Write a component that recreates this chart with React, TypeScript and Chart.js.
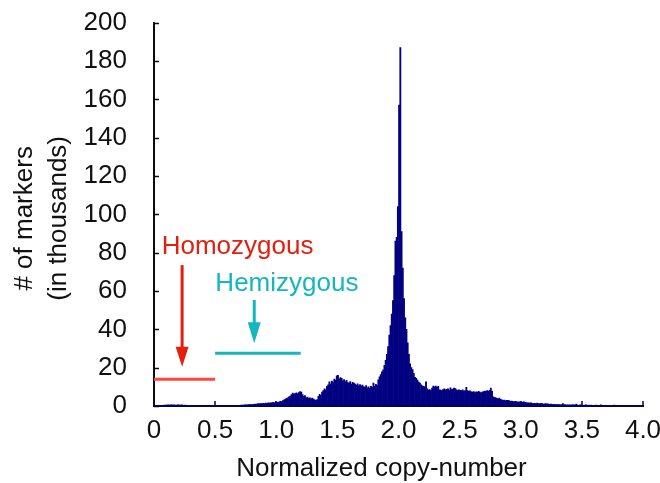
import React, { useEffect, useRef } from "react";
import { Chart, registerables } from "chart.js";

Chart.register(...registerables);

// ---- Data (histogram counts, in thousands; bin width 0.01 copy-number) ----
const BIN_WIDTH = 0.01;

// 0.00 – 0.99
const countsLow = [
  0.1, 0.1, 0.1, 0.1, 0.2, 0.2, 0.3, 0.4, 0.5, 0.5,
  0.5, 0.6, 0.5, 0.6, 0.6, 0.5, 0.6, 0.5, 0.5, 0.6,
  0.5, 0.5, 0.6, 0.5, 0.4, 0.5, 0.4, 0.4, 0.3, 0.3,
  0.3, 0.3, 0.2, 0.2, 0.2, 0.2, 0.1, 0.1, 0.1, 0.1,
  0.1, 0.1, 0.1, 0.1, 0.1, 0.1, 0.1, 0.1, 0.1, 0.1,
  0.1, 0.1, 0.1, 0.2, 0.2, 0.2, 0.3, 0.3, 0.3, 0.3,
  0.3, 0.3, 0.4, 0.3, 0.4, 0.4, 0.3, 0.4, 0.4, 0.4,
  0.4, 0.5, 0.5, 0.5, 0.6, 0.6, 0.6, 0.7, 0.7, 0.8,
  0.8, 0.9, 1.0, 0.9, 1.1, 1.2, 1.1, 1.3, 1.2, 1.4,
  1.3, 1.5, 1.4, 1.6, 1.5, 1.7, 1.6, 1.9, 1.7, 2.0,
];

// 1.00 – 1.99
const countsMid = [
  2.0, 1.8, 2.2, 2.5, 2.3, 2.8, 3.2, 3.6, 4.0, 4.3,
  4.8, 5.2, 6.0, 6.7, 6.2, 6.5, 6.9, 6.3, 7.0, 7.5,
  7.2, 6.0, 5.0, 5.4, 4.3, 4.6, 4.0, 4.2, 3.8, 4.1,
  3.6, 3.2, 2.9, 3.4, 5.0, 6.1, 5.5, 7.2, 8.1, 9.0,
  8.5, 10.2, 11.0, 12.6, 11.5, 13.0, 12.2, 14.1, 13.5, 15.8,
  16.0, 14.2, 14.8, 14.5, 13.1, 13.8, 12.6, 13.4, 12.2, 12.0,
  12.8, 11.5, 12.3, 11.9, 11.4, 10.8, 11.6, 10.5, 11.2, 10.4,
  10.9, 10.1, 9.8, 10.6, 9.5, 10.0, 9.2, 10.3, 9.7, 12.0,
  10.2, 11.3, 10.8, 13.6, 15.2, 16.4, 17.8, 18.9, 21.2, 23.8,
  27, 31, 37, 42, 48, 55, 68, 86, 88, 104,
];

// 2.00 – 2.99
const countsPeak = [
  157, 187, 91, 72, 56, 46, 40, 33, 27, 22,
  20, 19, 17, 15, 14.5, 13.5, 12.5, 12, 11, 10.5,
  10.2, 10.0, 12.6, 9.0, 8.3, 8.6, 8.1, 9.4, 10.4, 10.0,
  10.4, 9.8, 10.2, 8.5, 8.3, 8.0, 8.6, 9.0, 8.4, 8.7,
  8.9, 8.2, 9.5, 8.6, 8.8, 9.3, 9.1, 8.4, 8.0, 8.5,
  8.2, 8.0, 8.4, 7.8, 8.1, 9.7, 8.0, 7.6, 7.9, 7.4,
  7.2, 7.5, 7.0, 7.4, 7.1, 7.6, 7.3, 6.9, 7.2, 7.5,
  7.8, 7.6, 8.0, 7.7, 8.2, 9.4, 7.8, 4.8, 4.5, 4.3,
  4.0, 3.8, 4.1, 3.5, 3.2, 3.0, 3.1, 2.8, 3.0, 2.9,
  2.8, 2.5, 2.6, 2.4, 2.2, 2.5, 2.3, 2.1, 2.2, 2.0,
];

// 3.00 – 3.99
const countsHigh = [
  2.1, 2.0, 2.2, 1.9, 1.8, 1.7, 1.6, 1.5, 1.6, 1.4,
  1.3, 1.4, 1.2, 1.5, 1.3, 1.1, 1.4, 1.2, 1.0, 1.1,
  1.2, 1.0, 1.1, 0.9, 1.0, 0.9, 0.8, 0.9, 0.8, 0.7,
  0.8, 0.7, 0.6, 0.7, 1.2, 0.6, 0.7, 0.5, 0.6, 0.5,
  0.6, 0.5, 0.7, 0.5, 0.6, 1.0, 0.5, 0.4, 0.6, 0.5,
  0.5, 0.4, 0.5, 0.6, 0.4, 0.5, 0.4, 0.5, 0.4, 0.4,
  0.4, 0.5, 0.4, 0.3, 0.4, 0.6, 0.4, 0.3, 0.4, 0.3,
  0.4, 0.3, 0.3, 0.4, 0.3, 0.3, 0.5, 0.3, 0.3, 0.2,
  0.3, 0.2, 0.3, 0.3, 0.2, 0.3, 0.2, 0.2, 0.3, 0.2,
  0.2, 0.2, 0.3, 0.2, 0.2, 0.2, 0.2, 0.2, 0.2, 0.3,
];

const xTickValues = [0, 0.5, 1.0, 1.5, 2.0, 2.5, 3.0, 3.5, 4.0];
const yTickValues = [0, 20, 40, 60, 80, 100, 120, 140, 160, 180, 200];

const xAxisTitle = "Normalized copy-number";
const yAxisTitle = ["# of markers", "(in thousands)"];

// Annotation values (data units)
const homozygousLabel = "Homozygous";
const homozygousLevel = { from: 0, to: 0.5, y: 14 };
const homozygousArrow = { x: 0.23, top: 73.5, tip: 20.5 };
const homozygousText = { x: 0.063, y: 79.3 };

const hemizygousLabel = "Hemizygous";
const hemizygousLevel = { from: 0.5, to: 1.2, y: 27.5 };
const hemizygousArrow = { x: 0.82, top: 55.3, tip: 32.7 };
const hemizygousText = { x: 0.502, y: 60 };

// ---- Styles ----
const FONT = '"Liberation Sans", Arial, Helvetica, sans-serif';
const BAR_COLOR = "#000080";
const RED_TEXT = "#e3200f";
const RED_LINE = "#ff4646";
const CYAN = "#14b6c0";
const AXIS_COLOR = "#0a0a14";

const counts = [...countsLow, ...countsMid, ...countsPeak, ...countsHigh];

function drawArrow(
  ctx: CanvasRenderingContext2D,
  x: number,
  yTop: number,
  yTip: number,
  color: string,
  headH: number,
  headW: number
) {
  ctx.save();
  ctx.strokeStyle = color;
  ctx.fillStyle = color;
  ctx.lineWidth = 3;
  ctx.beginPath();
  ctx.moveTo(x, yTop);
  ctx.lineTo(x, yTip - headH + 2);
  ctx.stroke();
  ctx.beginPath();
  ctx.moveTo(x - headW / 2, yTip - headH);
  ctx.lineTo(x + headW / 2, yTip - headH);
  ctx.lineTo(x, yTip);
  ctx.closePath();
  ctx.fill();
  ctx.restore();
}

const overlayPlugin = {
  id: "overlay",
  beforeDatasetsDraw(chart: any) {
    const { ctx, chartArea, scales } = chart;
    const xs = scales.x;
    const ys = scales.y;
    ctx.save();
    ctx.strokeStyle = AXIS_COLOR;
    ctx.lineWidth = 1.5;
    for (const v of yTickValues) {
      const y = Math.round(ys.getPixelForValue(v)) + 0.5;
      ctx.beginPath();
      ctx.moveTo(chartArea.left, y);
      ctx.lineTo(chartArea.left + 5, y);
      ctx.stroke();
    }
    for (const v of xTickValues) {
      const x = Math.round(xs.getPixelForValue(v));
      ctx.beginPath();
      ctx.moveTo(x, chartArea.bottom);
      ctx.lineTo(x, chartArea.bottom - 5);
      ctx.stroke();
    }
    ctx.restore();
  },
  afterDraw(chart: any) {
    const { ctx, chartArea, scales } = chart;
    const xs = scales.x;
    const ys = scales.y;
    const px = (v: number) => xs.getPixelForValue(v);
    const py = (v: number) => ys.getPixelForValue(v);

    ctx.save();
    // threshold lines
    ctx.lineWidth = 3;
    ctx.strokeStyle = RED_LINE;
    ctx.beginPath();
    ctx.moveTo(px(homozygousLevel.from), py(homozygousLevel.y));
    ctx.lineTo(px(homozygousLevel.to), py(homozygousLevel.y));
    ctx.stroke();
    ctx.strokeStyle = CYAN;
    ctx.beginPath();
    ctx.moveTo(px(hemizygousLevel.from), py(hemizygousLevel.y));
    ctx.lineTo(px(hemizygousLevel.to), py(hemizygousLevel.y));
    ctx.stroke();

    // arrows
    drawArrow(ctx, px(homozygousArrow.x), py(homozygousArrow.top), py(homozygousArrow.tip), RED_TEXT, 20, 13);
    drawArrow(ctx, px(hemizygousArrow.x), py(hemizygousArrow.top), py(hemizygousArrow.tip), CYAN, 21, 13);

    // labels
    ctx.font = `26px ${FONT}`;
    ctx.textAlign = "left";
    ctx.textBaseline = "alphabetic";
    ctx.fillStyle = RED_TEXT;
    ctx.fillText(homozygousLabel, px(homozygousText.x), py(homozygousText.y));
    ctx.fillStyle = CYAN;
    ctx.fillText(hemizygousLabel, px(hemizygousText.x), py(hemizygousText.y));

    // axis titles
    ctx.fillStyle = "#111";
    ctx.textAlign = "center";
    ctx.fillText(xAxisTitle, chartArea.left + 227.5, chartArea.bottom + 70);

    const cy = (chartArea.top + chartArea.bottom) / 2 + 4;
    yAxisTitle.forEach((line, i) => {
      ctx.save();
      ctx.translate(chartArea.left - 122.3 + i * 34, cy);
      ctx.rotate(-Math.PI / 2);
      ctx.fillText(line, 0, 0);
      ctx.restore();
    });
    ctx.restore();
  },
};

function clearPadding(scale: any) {
  scale.paddingTop = 0;
  scale.paddingBottom = 0;
  scale.paddingLeft = 0;
  scale.paddingRight = 0;
}

export default function App() {
  const canvasRef = useRef<HTMLCanvasElement | null>(null);

  useEffect(() => {
    if (!canvasRef.current) return;
    const data = counts.map((v, i) => ({ x: (i + 0.5) * BIN_WIDTH, y: v }));
    const chart = new Chart(canvasRef.current, {
      type: "bar",
      data: {
        datasets: [
          {
            data: data as any,
            backgroundColor: BAR_COLOR,
            borderWidth: 0,
            barPercentage: 1,
            categoryPercentage: 1,
            grouped: false,
          } as any,
        ],
      },
      options: {
        animation: false,
        responsive: true,
        maintainAspectRatio: false,
        devicePixelRatio: 1,
        layout: { padding: { top: 22.7, right: 17, bottom: 0, left: 0 } },
        plugins: {
          legend: { display: false },
          tooltip: { enabled: false },
        },
        scales: {
          x: {
            type: "linear",
            min: 0,
            max: 4,
            offset: false,
            grid: { display: false, drawTicks: false, offset: false },
            border: { display: true, color: AXIS_COLOR, width: 2 },
            afterBuildTicks: (scale: any) => {
              scale.ticks = xTickValues.map((v) => ({ value: v }));
            },
            afterFit: (scale: any) => {
              scale.height = 77;
              clearPadding(scale);
            },
            ticks: {
              autoSkip: false,
              maxRotation: 0,
              minRotation: 0,
              padding: 9.4,
              color: "#111",
              font: { family: FONT, size: 26, lineHeight: 1.2 },
              callback: (value: any) => (Number(value) === 0 ? "0" : Number(value).toFixed(1)),
            },
          },
          y: {
            type: "linear",
            min: 0,
            max: 200,
            grid: { display: false, drawTicks: false },
            border: { display: true, color: AXIS_COLOR, width: 2 },
            afterBuildTicks: (scale: any) => {
              scale.ticks = yTickValues.map((v) => ({ value: v }));
            },
            afterFit: (scale: any) => {
              scale.width = 154;
              clearPadding(scale);
            },
            ticks: {
              autoSkip: false,
              padding: 27,
              color: "#111",
              font: { family: FONT, size: 26, lineHeight: 1.2 },
            },
          },
        },
      },
      plugins: [overlayPlugin],
    });
    return () => chart.destroy();
  }, []);

  return (
    <div style={{ position: "fixed", left: 0, top: 0, width: 660, height: 483 }}>
      <canvas ref={canvasRef} />
    </div>
  );
}
